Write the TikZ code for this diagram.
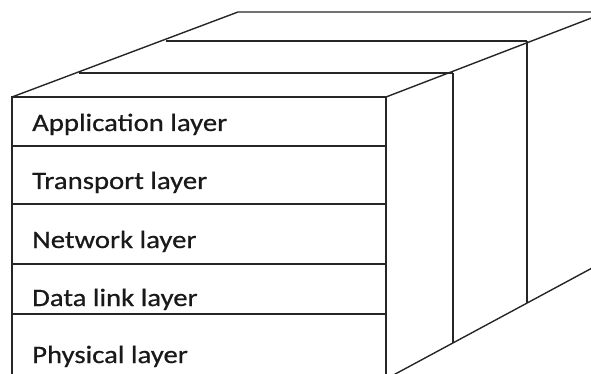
\documentclass[tikz,border=0pt]{standalone}
\usepackage{fontspec}
\setmainfont{Carlito}[FakeStretch=1.15, FakeBold=0.6]
\usetikzlibrary{positioning}

\begin{document}
\begin{tikzpicture}[x=1pt, y=-1pt]
	\tikzset{
		edge/.style={draw=black!85, line width=1.4pt},
		layer/.style={anchor=base west, inner sep=0pt, text=black!90, font=\fontsize{25}{30}\selectfont}
	}
	\useasboundingbox (0,0) rectangle (591,374);
	\clip (0,0) rectangle (591,374);

	% Corners
	\coordinate (ftl) at (12,97);
	\coordinate (ftr) at (386,97);
	\coordinate (fbl) at (12,390);
	\coordinate (fbr) at (386,379);
	\coordinate (s1t) at (453,73);
	\coordinate (s1b) at (453,343);
	\coordinate (s2t) at (527,41);
	\coordinate (s2b) at (527,303);
	\coordinate (b1l) at (79,73);
	\coordinate (b2l) at (166,41);
	\coordinate (b3l) at (238,12);
	\coordinate (b3r) at (620,12);
	\coordinate (rtop) at (620,7);
	\coordinate (rbot) at (620,253);

	% Front face
	\draw[edge] (fbl) -- (ftl) -- (ftr) -- (386,390);
	\draw[edge] (12,146) -- (386,146);
	\draw[edge] (12,204) -- (386,204);
	\draw[edge] (12,264) -- (386,264);
	\draw[edge] (12,314) -- (386,314);

	% Top
	\draw[edge] (ftl) -- (b3l) -- (b3r);
	\draw[edge] (b1l) -- (s1t);
	\draw[edge] (b2l) -- (s2t);

	% Side
	\draw[edge] (ftr) -- (rtop);
	\draw[edge] (fbr) -- (rbot);
	\draw[edge] (s1t) -- (s1b);
	\draw[edge] (s2t) -- (s2b);

	% Layers
	\node[layer] (app) at (32,131) {Application layer};
	\node[layer] (trans) at (32,189) {Transport layer};
	\node[layer] (net) at (32,248) {Network layer};
	\node[layer] (link) at (32,306) {Data link layer};
	\node[layer] (phys) at (32,363) {Physical layer};
\end{tikzpicture}
\end{document}
